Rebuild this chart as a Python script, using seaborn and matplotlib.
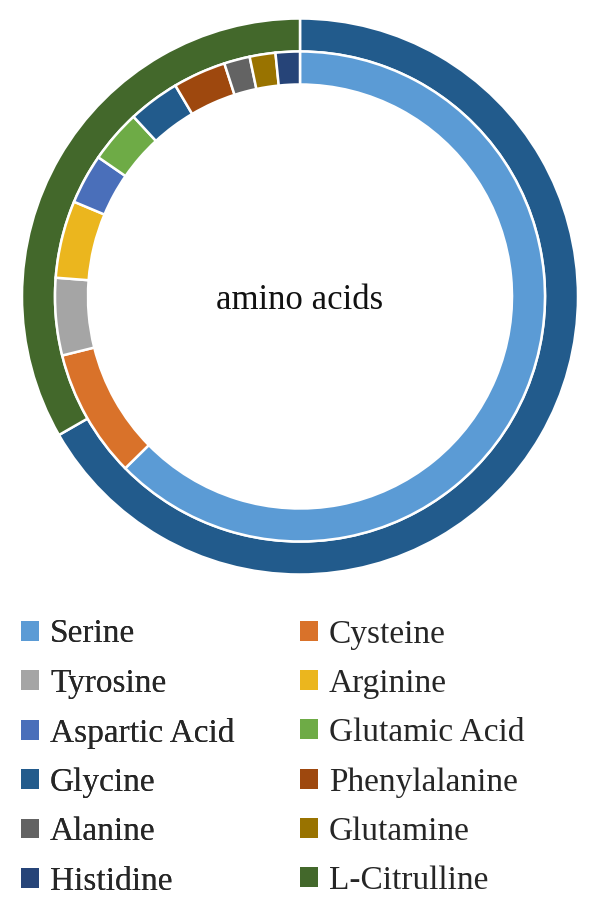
"""
Amino acid composition - nested doughnut chart
"""
import matplotlib
matplotlib.use('Agg')
import matplotlib.pyplot as plt
import seaborn as sns
from matplotlib.patches import Patch

sns.set_theme(style='white')
plt.rcParams['font.family'] = ['Liberation Serif', 'DejaVu Serif']

# Legend / category names
labels = ['Serine', 'Cysteine', 'Tyrosine', 'Arginine', 'Aspartic Acid', 'Glutamic Acid',
          'Glycine', 'Phenylalanine', 'Alanine', 'Glutamine', 'Histidine', 'L-Citrulline']
colors = ['#5B9BD5', '#D9722A', '#A5A5A5', '#EBB61E', '#4A6FBA', '#6EAB46',
          '#225B8C', '#9E480E', '#636363', '#997300', '#264478', '#43682B']

# Inner ring (%)
inner_values = [62.7, 8.5, 5.1, 5.1, 3.3, 3.5, 3.4, 3.5, 1.7, 1.7, 1.6]
inner_colors = colors[:11]

# Outer ring (%)
outer_values = [66.7, 33.3]
outer_colors = ['#225B8C', '#43682B']

center_label = 'amino acids'

fig = plt.figure(figsize=(6.0, 9.11), dpi=100)
W, H = 600, 911
cx, cy, R = 300, 296.5, 278
ax = fig.add_axes([(cx - R) / W, (H - cy - R) / H, 2 * R / W, 2 * R / H])

ring_w = 33 / R
wedge_kw = dict(edgecolor='white', linewidth=1.8)

ax.pie(outer_values, radius=1.0, colors=outer_colors, startangle=90,
       counterclock=False, wedgeprops=dict(width=ring_w, **wedge_kw))
ax.pie(inner_values, radius=1.0 - ring_w, colors=inner_colors, startangle=90,
       counterclock=False, wedgeprops=dict(width=ring_w, **wedge_kw))
ax.set_xlim(-1, 1)
ax.set_ylim(-1, 1)
ax.set_aspect('equal')
ax.axis('off')

ax.text(0, -0.045, center_label, ha='center', va='baseline', fontsize=25, color='#111111')

# legend: two columns, filled row by row like the original
handles = [Patch(facecolor=c, edgecolor='none', label=l) for c, l in zip(colors, labels)]
leg_kw = dict(loc='upper left', frameon=False, fontsize=24, borderpad=0, borderaxespad=0,
              handlelength=0.54, handleheight=0.54, handletextpad=0.33, labelspacing=0.565)
leg1 = fig.legend(handles=handles[0::2], bbox_to_anchor=(21 / W, (H - 619) / H), **leg_kw)
fig.add_artist(leg1)
fig.legend(handles=handles[1::2], bbox_to_anchor=(300 / W, (H - 619) / H), **leg_kw)

plt.savefig('out.png', dpi=100)
